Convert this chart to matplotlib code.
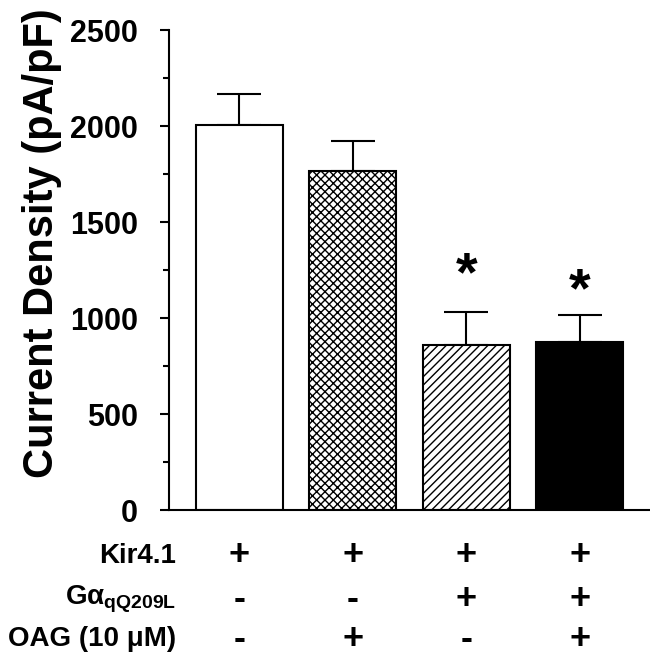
import matplotlib
matplotlib.use("Agg")
import matplotlib.pyplot as plt

plt.rcParams['font.family'] = ['Liberation Sans', 'DejaVu Sans']
plt.rcParams['font.weight'] = 'bold'
plt.rcParams['hatch.linewidth'] = 1.0
plt.rcParams['mathtext.fontset'] = 'custom'
plt.rcParams['mathtext.rm'] = 'Liberation Sans:bold'
plt.rcParams['mathtext.it'] = 'Liberation Sans:bold'
plt.rcParams['mathtext.bf'] = 'Liberation Sans:bold'

means = [2005, 1766, 859, 875]
errors = [162, 156, 172, 141]
facecolors = ['white', 'white', 'white', 'black']
hatches = ['', 'xxxx', '////', '']
star_heights = [None, None, 1215, 1135]
row_labels = ['Kir4.1', r'G$\alpha_{\mathrm{qQ209L}}$', 'OAG (10 \u03bcM)']
row_signs = [['+', '+', '+', '+'],
             ['-', '-', '+', '+'],
             ['-', '+', '-', '+']]
yticks = [0, 500, 1000, 1500, 2000, 2500]
yminor = [250, 750, 1250, 1750, 2250]

fig = plt.figure(figsize=(6.5, 6.57), dpi=100)
ax = fig.add_axes([0.26, 0.2237, 0.74, 0.7306])

x = list(range(len(means)))
for i in x:
    ax.bar(i, means[i], width=0.77, color=facecolors[i], edgecolor='black',
           linewidth=1.5, hatch=hatches[i], zorder=2)
ax.errorbar(x, means, yerr=[[0]*4, errors], fmt='none', ecolor='black',
            elinewidth=1.5, capsize=15.5, capthick=1.5, zorder=1)
for i in x:
    if star_heights[i] is not None:
        ax.text(i, star_heights[i], '*', ha='center', va='center',
                fontsize=40, fontweight='bold')

ax.set_xlim(-0.62, 3.62)
ax.set_ylim(0, 2500)
ax.set_yticks(yticks)
ax.set_yticks(yminor, minor=True)
ax.set_yticklabels([str(t) for t in yticks], fontsize=22, fontweight='bold')
ax.tick_params(axis='y', which='major', length=6.5, width=1.5, pad=16)
ax.tick_params(axis='y', which='minor', length=4.5, width=1.5)
ax.set_xticks([])
for s in ['top', 'right']:
    ax.spines[s].set_visible(False)
ax.spines['left'].set_linewidth(1.5)
ax.spines['bottom'].set_linewidth(1.5)

fig.text(42 / 650, 1 - 243 / 657, 'Current Density (pA/pF)', rotation=90,
         ha='center', va='center', fontsize=30, fontweight='bold')

row_y = [556, 599, 639]
for r, (lab, signs) in enumerate(zip(row_labels, row_signs)):
    yf = 1 - row_y[r] / 657
    fig.text(176 / 650, yf, lab, ha='right', va='center', fontsize=20, fontweight='bold')
    for i, s in enumerate(signs):
        xd = ax.transData.transform((i, 0))[0]
        xf = xd / fig.bbox.width
        fig.text(xf, yf, s, ha='center', va='center', fontsize=26, fontweight='bold')

fig.savefig('out.png', dpi=100)
